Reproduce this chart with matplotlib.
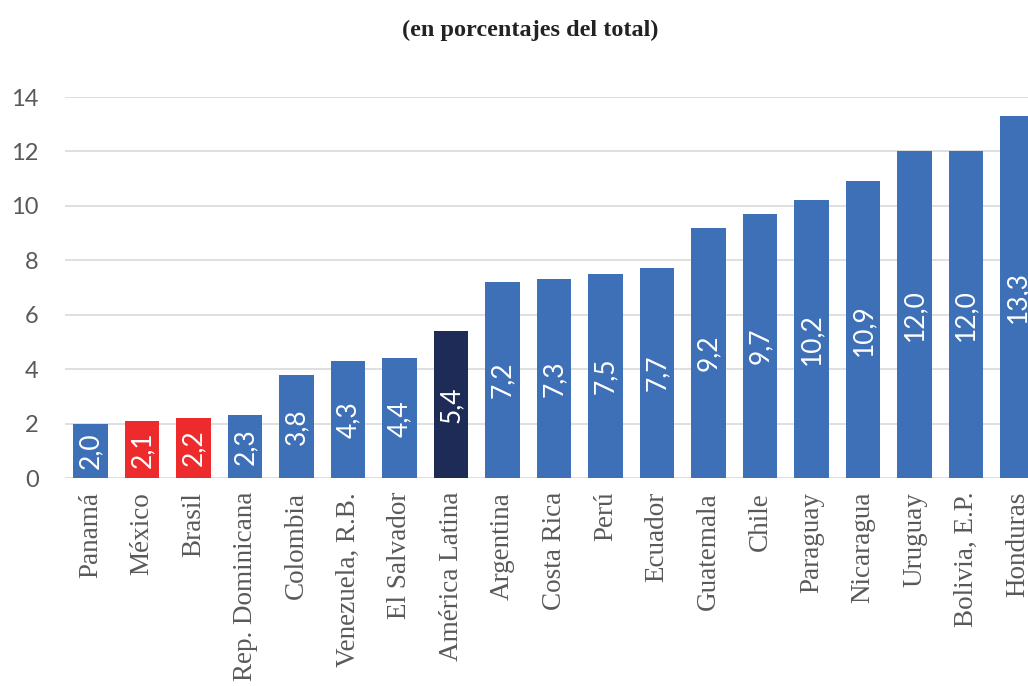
import matplotlib
matplotlib.use("Agg")
import matplotlib.pyplot as plt
import numpy as np

# ── Data ──────────────────────────────────────────────────────────────────────
countries = [
    "Panamá", "México", "Brasil", "Rep. Dominicana", "Colombia",
    "Venezuela, R.B.", "El Salvador", "América Latina", "Argentina",
    "Costa Rica", "Perú", "Ecuador", "Guatemala", "Chile", "Paraguay",
    "Nicaragua", "Uruguay", "Bolivia, E.P.", "Honduras",
]
values = [2.0, 2.1, 2.2, 2.3, 3.8, 4.3, 4.4, 5.4, 7.2, 7.3, 7.5, 7.7,
          9.2, 9.7, 10.2, 10.9, 12.0, 12.0, 13.3]
highlight_red = ["México", "Brasil"]
highlight_dark = ["América Latina"]
yticks = [0, 2, 4, 6, 8, 10, 12, 14]

# ── Style ─────────────────────────────────────────────────────────────────────
BLUE = "#3e70b8"
RED = "#ee2b2c"
NAVY = "#1f2b57"
GRID = "#d9d9d9"
TXT = "#595959"

colors = [RED if c in highlight_red else NAVY if c in highlight_dark else BLUE
          for c in countries]

fig = plt.figure(figsize=(10.28, 6.86), dpi=100, facecolor="white")
ax = fig.add_axes([0.0632, 0.3032, 1 - 0.0632, 0.8586 - 0.3032])

xs = np.arange(len(countries))
bars = ax.bar(xs, values, width=0.67, color=colors, zorder=3)

for bar, val in zip(bars, values):
    ax.text(bar.get_x() + bar.get_width() / 2, val / 2,
            f"{val:.1f}".replace(".", ","), rotation=90,
            ha="center", va="center", color="white", fontsize=19,
            family="Lato", zorder=4, clip_on=True)

ax.set_xlim(-0.5, 18.2)
ax.set_ylim(0, 14)
ax.set_yticks(yticks)
ax.set_yticklabels([str(t) for t in yticks], fontsize=17, color=TXT,
                   family="Lato")
ax.set_xticks(xs)
ax.set_xticklabels(countries, rotation=90, fontsize=19.5, color=TXT,
                   family="Liberation Serif")
ax.tick_params(axis="both", length=0)
ax.tick_params(axis="y", pad=19)
ax.tick_params(axis="x", pad=10)
ax.grid(axis="y", color=GRID, lw=1.2, zorder=0)
for s in ax.spines.values():
    s.set_visible(False)

fig.text(0.516, 0.955, "(en porcentajes del total)", ha="center", va="center",
         fontsize=17.5, fontweight="bold", family="Liberation Serif",
         color="#222222")

fig.savefig("out.png", dpi=100, facecolor="white")
